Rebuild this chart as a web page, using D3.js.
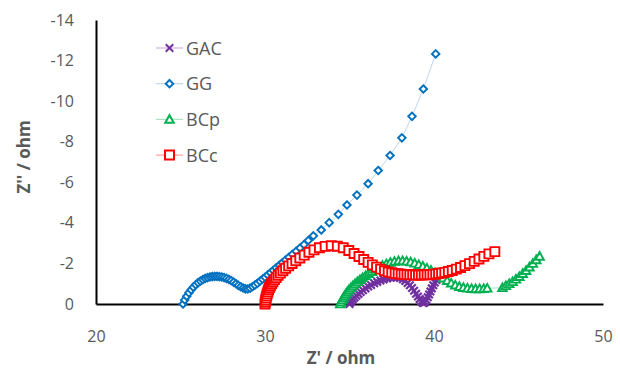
<!DOCTYPE html>
<html>
<head>
<meta charset="utf-8">
<script src="https://cdn.jsdelivr.net/npm/d3@7"></script>
<style>
  body { margin: 0; background: #fff; }
  text { font-family: "Open Sans", "Noto Sans", sans-serif; fill: #595959; }
  .ticklbl { font-size: 16px; }
  .axtitle { font-size: 17px; font-weight: bold; }
  .legendtxt { font-size: 18px; }
</style>
</head>
<body>
<svg id="chart" width="620" height="373"></svg>
<script>
// series: [Z', Z''] pairs
var gac = [[35.0,0],[35.05,-0.08],[35.12,-0.16],[35.2,-0.24],[35.3,-0.32],[35.41,-0.41],[35.53,-0.5],[35.66,-0.59],[35.8,-0.68],[35.95,-0.77],[36.11,-0.86],[36.28,-0.94],[36.46,-1.02],[36.64,-1.09],[36.83,-1.16],[37.02,-1.21],[37.22,-1.26],[37.42,-1.29],[37.62,-1.31],[37.82,-1.31],[38.0,-1.28],[38.16,-1.22],[38.3,-1.14],[38.44,-1.04],[38.57,-0.92],[38.7,-0.79],[38.82,-0.65],[38.94,-0.51],[39.05,-0.37],[39.15,-0.24],[39.25,-0.13],[39.33,-0.06],[39.4,-0.05],[39.47,-0.1],[39.55,-0.2],[39.63,-0.33],[39.71,-0.47],[39.79,-0.62],[39.87,-0.77],[39.96,-0.92],[40.05,-1.06],[40.15,-1.18],[40.25,-1.28],[40.36,-1.36]];

var gg = [[25.15,0],[25.25,-0.2],[25.37,-0.38],[25.5,-0.55],[25.63,-0.7],[25.76,-0.83],[25.9,-0.95],[26.04,-1.05],[26.18,-1.13],[26.32,-1.2],[26.46,-1.26],[26.6,-1.3],[26.74,-1.33],[26.88,-1.35],[27.02,-1.36],[27.16,-1.36],[27.3,-1.35],[27.44,-1.33],[27.58,-1.3],[27.72,-1.26],[27.86,-1.21],[28.0,-1.15],[28.14,-1.08],[28.28,-1.0],[28.42,-0.92],[28.56,-0.85],[28.7,-0.79],[28.84,-0.75],[28.98,-0.74],[29.12,-0.78],[29.26,-0.85],[29.4,-0.93],[29.55,-1.02],[29.7,-1.12],[29.85,-1.22],[30.0,-1.32],[30.16,-1.43],[30.32,-1.54],[30.49,-1.66],[30.66,-1.78],[30.84,-1.9],[31.02,-2.03],[31.21,-2.16],[31.41,-2.3],[31.62,-2.45],[31.84,-2.6],[32.07,-2.76],[32.31,-2.93],[32.56,-3.13],[32.86,-3.36],[33.33,-3.65],[33.8,-4.01],[34.34,-4.42],[34.85,-4.88],[35.44,-5.37],[36.1,-5.93],[36.7,-6.58],[37.4,-7.32],[38.1,-8.19],[38.7,-9.25],[39.37,-10.6],[40.1,-12.33]];

var bcp = [[34.45,0.0],[34.5,-0.1],[34.56,-0.2],[34.63,-0.3],[34.7,-0.4],[34.78,-0.5],[34.87,-0.6],[34.97,-0.7],[35.08,-0.8],[35.2,-0.9],[35.33,-1.0],[35.47,-1.1],[35.62,-1.2],[35.78,-1.3],[35.95,-1.4],[36.13,-1.5],[36.32,-1.6],[36.52,-1.7],[36.73,-1.8],[36.95,-1.9],[37.18,-1.98],[37.42,-2.05],[37.66,-2.1],[37.9,-2.13],[38.14,-2.13],[38.38,-2.11],[38.62,-2.07],[38.86,-2.01],[39.1,-1.94],[39.34,-1.86],[39.58,-1.77],[39.82,-1.66],[40.06,-1.54],[40.3,-1.41],[40.54,-1.28],[40.78,-1.15],[41.02,-1.03],[41.26,-0.93],[41.5,-0.86],[41.74,-0.81],[41.98,-0.78],[42.22,-0.76],[42.46,-0.75],[42.7,-0.75],[42.94,-0.76],[43.15,-0.78],[44.05,-0.8],[44.25,-0.9],[44.45,-1.0],[44.65,-1.1],[44.85,-1.22],[45.05,-1.35],[45.25,-1.5],[45.45,-1.65],[45.65,-1.82],[45.85,-2.0],[46.05,-2.18],[46.25,-2.35]];

var bcc = [[30.0,0],[30.02,-0.1],[30.04,-0.2],[30.07,-0.3],[30.1,-0.4],[30.13,-0.5],[30.17,-0.6],[30.21,-0.7],[30.26,-0.8],[30.32,-0.9],[30.39,-1.0],[30.47,-1.1],[30.56,-1.2],[30.66,-1.3],[30.78,-1.41],[30.91,-1.52],[31.06,-1.64],[31.22,-1.76],[31.4,-1.88],[31.6,-2.0],[31.82,-2.13],[32.06,-2.27],[32.32,-2.41],[32.6,-2.55],[32.9,-2.67],[33.22,-2.77],[33.56,-2.84],[33.92,-2.87],[34.28,-2.85],[34.63,-2.77],[34.96,-2.64],[35.27,-2.49],[35.56,-2.34],[35.84,-2.19],[36.1,-2.05],[36.35,-1.93],[36.6,-1.82],[36.84,-1.72],[37.07,-1.64],[37.29,-1.58],[37.5,-1.54],[37.7,-1.51],[37.88,-1.49],[38.06,-1.47],[38.23,-1.46],[38.4,-1.45],[38.57,-1.44],[38.74,-1.44],[38.91,-1.43],[39.08,-1.43],[39.25,-1.43],[39.42,-1.44],[39.59,-1.44],[39.76,-1.45],[39.93,-1.46],[40.1,-1.48],[40.27,-1.5],[40.45,-1.53],[40.64,-1.56],[40.85,-1.6],[41.08,-1.65],[41.32,-1.72],[41.57,-1.8],[41.83,-1.89],[42.1,-1.99],[42.38,-2.1],[42.66,-2.22],[42.95,-2.35],[43.25,-2.47],[43.6,-2.58]];

var seriesNames = ["GAC", "GG", "BCp", "BCc"];
var xTicks = [20, 30, 40, 50];
var yTicks = [0, -2, -4, -6, -8, -10, -12, -14];

var svg = d3.select("#chart");

var x = d3.scaleLinear().domain([20, 50]).range([96, 603]);
var y = d3.scaleLinear().domain([0, -14]).range([304, 20]);

// look of each series (excel-ish)
var styles = {
  "GAC": { data: gac, stroke: "#7030A0", line: "#CDB4E0", symbol: "x", size: 7.5 },
  "GG":  { data: gg,  stroke: "#0070C0", line: "#BDD7EE", symbol: "diamond", size: 7.5 },
  "BCp": { data: bcp, stroke: "#00B050", line: "#A8E2C0", symbol: "triangle", size: 8.5 },
  "BCc": { data: bcc, stroke: "#FF0000", line: "#FF9C9C", symbol: "square", size: 9 }
};

function markerPath(sym, s) {
  var h = s / 2;
  if (sym === "x") return "M" + (-h) + "," + (-h) + "L" + h + "," + h + "M" + (-h) + "," + h + "L" + h + "," + (-h);
  if (sym === "diamond") return "M0," + (-h) + "L" + h + ",0L0," + h + "L" + (-h) + ",0Z";
  if (sym === "triangle") return "M0," + (-h) + "L" + h + "," + (h * 0.8) + "L" + (-h) + "," + (h * 0.8) + "Z";
  return "M" + (-h) + "," + (-h) + "H" + h + "V" + h + "H" + (-h) + "Z";
}

// axes
var xAxis = svg.append("g")
  .attr("transform", "translate(0," + y(0) + ")")
  .call(d3.axisBottom(x).tickValues(xTicks).tickSize(0).tickPadding(27).tickFormat(function(d){ return String(d); }));
xAxis.select(".domain").attr("stroke", "#000").attr("stroke-width", 2);
xAxis.selectAll("text").attr("class", "ticklbl").attr("fill", null);

var yAxis = svg.append("g")
  .attr("transform", "translate(" + x(20) + ",0)")
  .call(d3.axisLeft(y).tickValues(yTicks).tickSize(0).tickPadding(22).tickFormat(function(d){ return String(d); }));
yAxis.select(".domain").attr("stroke", "#000").attr("stroke-width", 2);
yAxis.selectAll("text").attr("class", "ticklbl").attr("fill", null);

svg.append("text")
  .attr("class", "axtitle")
  .attr("x", 341)
  .attr("y", 364)
  .attr("text-anchor", "middle")
  .text("Z' / ohm");

svg.append("text")
  .attr("class", "axtitle")
  .attr("transform", "translate(30,157) rotate(-90)")
  .attr("text-anchor", "middle")
  .text("Z'' / ohm");

// series: lines then markers
var line = d3.line().x(function(d){ return x(d[0]); }).y(function(d){ return y(d[1]); });

seriesNames.forEach(function(name) {
  var st = styles[name];
  var g = svg.append("g").attr("class", "series-" + name.toLowerCase());
  g.append("path")
    .datum(st.data)
    .attr("d", line)
    .attr("fill", "none")
    .attr("stroke", st.line)
    .attr("stroke-width", 1);
  g.selectAll("path.mk")
    .data(st.data)
    .enter()
    .append("path")
    .attr("class", "mk")
    .attr("transform", function(d){ return "translate(" + x(d[0]) + "," + y(d[1]) + ")"; })
    .attr("d", markerPath(st.symbol, st.size))
    .attr("fill", st.symbol === "x" ? "none" : "#fff")
    .attr("stroke", st.stroke)
    .attr("stroke-width", st.symbol === "x" ? 2.2 : 1.9);
});

// legend
var legend = svg.append("g")
  .selectAll("g.legenditem")
  .data(seriesNames)
  .enter()
  .append("g")
  .attr("class", "legenditem")
  .attr("transform", function(d, i){ return "translate(156," + (48 + i * 35.7) + ")"; });

legend.append("line")
  .attr("x1", 0).attr("x2", 27).attr("y1", 0).attr("y2", 0)
  .attr("stroke", function(d){ return styles[d].line; })
  .attr("stroke-width", 1.2);

legend.append("path")
  .attr("transform", "translate(13.5,0)")
  .attr("d", function(d){ return markerPath(styles[d].symbol, styles[d].size); })
  .attr("fill", function(d){ return styles[d].symbol === "x" ? "none" : "#fff"; })
  .attr("stroke", function(d){ return styles[d].stroke; })
  .attr("stroke-width", 2);

legend.append("text")
  .attr("class", "legendtxt")
  .attr("x", 30)
  .attr("y", 6.5)
  .text(function(d){ return d; });
</script>
</body>
</html>
